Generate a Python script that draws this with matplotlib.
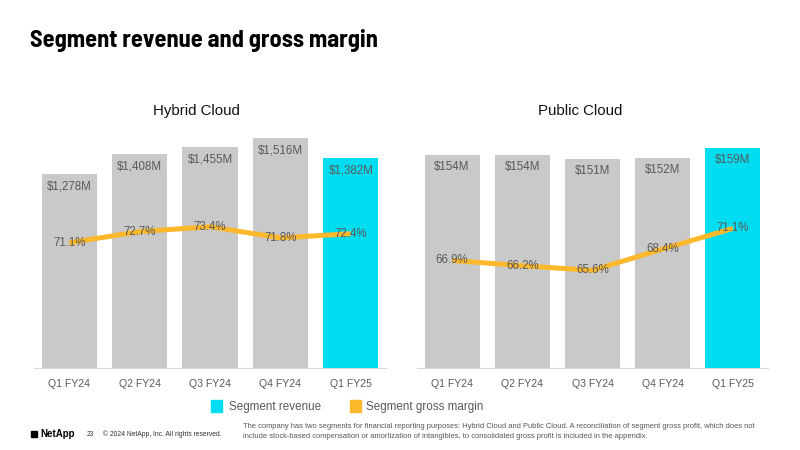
import matplotlib
matplotlib.use("Agg")
import matplotlib.pyplot as plt
from matplotlib.patches import Rectangle

quarters = ["Q1 FY24", "Q2 FY24", "Q3 FY24", "Q4 FY24", "Q1 FY25"]
hybrid_rev = [1278, 1408, 1455, 1516, 1382]
hybrid_margin = [71.1, 72.7, 73.4, 71.8, 72.4]
public_rev = [154, 154, 151, 152, 159]
public_margin = [66.9, 66.2, 65.6, 68.4, 71.1]

GRAY = "#C9C9C9"
CYAN = "#00DCF0"
ORANGE = "#FDB82C"
TXT = "#595959"

plt.rcParams['font.family'] = ['Liberation Sans', 'DejaVu Sans']

fig = plt.figure(figsize=(8, 4.5), dpi=100)
fig.patch.set_facecolor("white")


def panel(rect, rev, margin, ylim, mlim, title, tx):
    ax = fig.add_axes(rect)
    x = list(range(len(quarters)))
    colors = [GRAY] * (len(rev) - 1) + [CYAN]
    ax.bar(x, rev, width=0.785, color=colors, zorder=1)
    ax.set_xlim(-0.5, 4.5)
    ax.set_ylim(*ylim)
    for xi, v in zip(x, rev):
        ax.annotate(f"${v:,}M", (xi, v), xytext=(0, -4.5), textcoords="offset points",
                    ha="center", va="top", fontsize=8.3, color=TXT, zorder=5)
    for s in ["top", "right", "left"]:
        ax.spines[s].set_visible(False)
    ax.spines["bottom"].set_color("#D9D9D9")
    ax.spines["bottom"].set_linewidth(0.8)
    ax.set_yticks([])
    ax.set_xticks(x)
    ax.set_xticklabels(quarters, fontsize=7.6, color=TXT)
    ax.tick_params(axis="x", length=0, pad=8)
    ax2 = ax.twinx()
    ax2.plot(x, margin, color=ORANGE, lw=3.6, solid_capstyle="butt", zorder=3)
    ax2.set_ylim(*mlim)
    ax2.set_xlim(-0.5, 4.5)
    ax2.axis("off")
    for xi, m in zip(x, margin):
        ax2.text(xi, m, f"{m}%", ha="center", va="center", fontsize=8.3, color=TXT, zorder=6)
    fig.text(tx, 1 - 111 / 450, title, ha="center", va="center", fontsize=10.8, color="#111111")
    return ax


h0 = 1 - 368 / 450
hh = (368 - 130) / 450
panel([34 / 800, h0, 352 / 800, hh], hybrid_rev, hybrid_margin, (0, 1569), (53.1, 87.3),
      "Hybrid Cloud", 196 / 800)
panel([417 / 800, h0, 351 / 800, hh], public_rev, public_margin, (0, 172), (52.8, 84.0),
      "Public Cloud", 580 / 800)

fig.text(30 / 800, 1 - 40 / 450, "Segment revenue and gross margin", ha="left", va="center",
         fontsize=17.5, fontweight="bold", family=['Barlow Semi Condensed', 'Barlow Condensed', 'DejaVu Sans'],
         color="black")

# legend
fig.patches.append(Rectangle((211 / 800, 1 - 412 / 450), 11 / 800, 12 / 450,
                             transform=fig.transFigure, color=CYAN))
fig.text(229 / 800, 1 - 407 / 450, "Segment revenue", ha="left", va="center", fontsize=8.4, color=TXT)
fig.patches.append(Rectangle((350 / 800, 1 - 412 / 450), 11 / 800, 12 / 450,
                             transform=fig.transFigure, color=ORANGE))
fig.text(366 / 800, 1 - 407 / 450, "Segment gross margin", ha="left", va="center", fontsize=8.4, color=TXT)

# footer
fig.patches.append(Rectangle((31 / 800, 1 - 437 / 450), 6 / 800, 6 / 450,
                             transform=fig.transFigure, color="black"))
fig.text(40 / 800, 1 - 434 / 450, "NetApp", ha="left", va="center", fontsize=7, fontweight="bold",
         color="black")
fig.text(87 / 800, 1 - 434 / 450, "23", ha="left", va="center", fontsize=4.7, color="#333333")
fig.text(103 / 800, 1 - 434 / 450, "© 2024 NetApp, Inc. All rights reserved.", ha="left", va="center",
         fontsize=4.9, color="#333333")
fig.text(243 / 800, 1 - 426 / 450,
         "The company has two segments for financial reporting purposes: Hybrid Cloud and Public Cloud. A reconciliation of segment gross profit, which does not",
         ha="left", va="center", fontsize=5.45, color="#555555")
fig.text(243 / 800, 1 - 436 / 450,
         "include stock-based compensation or amortization of intangibles, to consolidated gross profit is included in the appendix.",
         ha="left", va="center", fontsize=5.45, color="#555555")

fig.savefig("out.png", dpi=100, facecolor="white")
